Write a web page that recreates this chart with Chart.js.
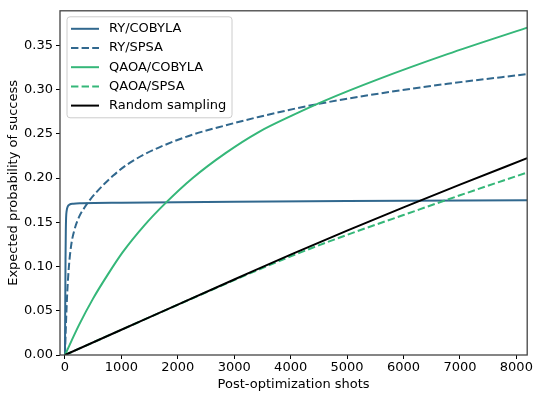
<!DOCTYPE html>
<html lang="en">
<head>
  <meta charset="UTF-8">
  <title>Expected probability of success</title>
  <script src="https://cdn.jsdelivr.net/npm/chart.js"></script>
  <style>
    html, body {
      margin: 0;
      padding: 0;
      background: #fff;
    }
    #wrap {
      width: 534px;
      height: 396px;
    }
  </style>
</head>
<body>
  <div id="wrap">
    <canvas id="chart" width="534" height="396"></canvas>
  </div>

  <script>
    // values
    const xTicks = [0, 1000, 2000, 3000, 4000, 5000, 6000, 7000, 8000];
    const yTicks = [0, 0.05, 0.10, 0.15, 0.20, 0.25, 0.30, 0.35];

    const shotsRyCobyla = [0, 5, 10, 15, 20, 30, 50, 80, 150, 300, 1000, 3000, 5000, 8192];
    const probRyCobyla = [0, 0.06, 0.11, 0.14, 0.155, 0.163, 0.168, 0.170, 0.171, 0.1715, 0.1722, 0.1732, 0.1740, 0.1748];

    const shotsRySpsa = [0, 15, 40, 70, 110, 170, 250, 350, 450, 550, 700, 850, 1085, 1400, 1700, 2260, 2846, 3430, 4310, 5370, 6780, 8192];
    const probRySpsa = [0, 0.03, 0.07, 0.10, 0.124, 0.142, 0.156, 0.167, 0.176, 0.1835, 0.1935, 0.2025, 0.2145, 0.2265, 0.2355, 0.2490, 0.2595, 0.2690, 0.2815, 0.2935, 0.3065, 0.3174];

    const shotsQaoaCobyla = [0, 250, 500, 750, 1027, 1400, 1790, 2259, 2846, 3433, 4019, 4607, 5546, 6778, 8192];
    const probQaoaCobyla = [0, 0.034, 0.064, 0.090, 0.1165, 0.1460, 0.1722, 0.1998, 0.2282, 0.2520, 0.2705, 0.2875, 0.3115, 0.3400, 0.3700];

    const shotsQaoaSpsa = [0, 1000, 2000, 3000, 4000, 5000, 6000, 7000, 8192];
    const probQaoaSpsa = [0, 0.0285, 0.0568, 0.0846, 0.1115, 0.1358, 0.1582, 0.1805, 0.2063];

    const shotsRandom = [0, 1000, 2000, 3000, 4000, 5000, 6000, 7000, 8192];
    const probRandom = [0, 0.0285, 0.0570, 0.0853, 0.1135, 0.1405, 0.1668, 0.1925, 0.2225];

    const blue = '#31688e';
    const green = '#35b779';
    const font = 'DejaVu Sans';

    function pts(xs, ys) {
      return xs.map((x, i) => ({ x: x, y: ys[i] }));
    }

    function series(label, xs, ys, color, dashed, order) {
      return {
        label: label,
        data: pts(xs, ys),
        borderColor: color,
        backgroundColor: color,
        borderWidth: 2,
        borderDash: dashed ? [7.4, 3.2] : [],
        pointRadius: 0,
        fill: false,
        cubicInterpolationMode: 'monotone',
        order: order
      };
    }

    // legend inside the axes, top-left, like matplotlib
    const boxLegend = {
      id: 'boxLegend',
      afterDraw(chart) {
        const ctx = chart.ctx;
        const area = chart.chartArea;
        const x0 = area.left + 7, y0 = area.top + 6;
        const w = 165, h = 101;
        ctx.save();
        ctx.beginPath();
        ctx.roundRect(x0, y0, w, h, 3);
        ctx.fillStyle = 'rgba(255,255,255,0.8)';
        ctx.fill();
        ctx.strokeStyle = '#cccccc';
        ctx.lineWidth = 1;
        ctx.stroke();
        ctx.font = '13px ' + font;
        ctx.textBaseline = 'middle';
        chart.data.datasets.forEach((ds, i) => {
          const yy = y0 + 12 + i * 19.2;
          ctx.beginPath();
          ctx.setLineDash(ds.borderDash);
          ctx.strokeStyle = ds.borderColor;
          ctx.lineWidth = 2;
          ctx.moveTo(x0 + 4, yy);
          ctx.lineTo(x0 + 32, yy);
          ctx.stroke();
          ctx.setLineDash([]);
          ctx.fillStyle = '#000';
          ctx.fillText(ds.label, x0 + 42, yy);
        });
        ctx.restore();
      }
    };

    const frame = {
      id: 'frame',
      afterDatasetsDraw(chart) {
        const ctx = chart.ctx;
        const a = chart.chartArea;
        ctx.save();
        ctx.strokeStyle = '#444';
        ctx.lineWidth = 1.3;
        ctx.strokeRect(a.left, a.top, a.right - a.left, a.bottom - a.top);
        ctx.restore();
      }
    };

    new Chart(document.getElementById('chart'), {
      type: 'line',
      data: {
        datasets: [
          series('RY/COBYLA', shotsRyCobyla, probRyCobyla, blue, false, 5),
          series('RY/SPSA', shotsRySpsa, probRySpsa, blue, true, 4),
          series('QAOA/COBYLA', shotsQaoaCobyla, probQaoaCobyla, green, false, 3),
          series('QAOA/SPSA', shotsQaoaSpsa, probQaoaSpsa, green, true, 2),
          series('Random sampling', shotsRandom, probRandom, '#000000', false, 1)
        ]
      },
      options: {
        responsive: false,
        animation: false,
        layout: { padding: { left: 0, right: 4, top: 5, bottom: 0 } },
        plugins: {
          legend: { display: false },
          tooltip: { enabled: false }
        },
        scales: {
          x: {
            type: 'linear',
            min: -88,
            max: 8192,
            afterBuildTicks: s => { s.ticks = xTicks.map(v => ({ value: v })); },
            afterFit: s => { s.height = 41; },
            grid: { display: true, drawOnChartArea: false, tickLength: 4, tickColor: '#000', tickWidth: 1 },
            border: { display: false },
            ticks: { color: '#000', font: { family: font, size: 13 }, padding: 1, maxRotation: 0, callback: v => String(v) },
            title: { display: true, text: 'Post-optimization shots', color: '#000', font: { family: font, size: 13 }, padding: { top: 0, bottom: 4 } }
          },
          y: {
            type: 'linear',
            min: 0,
            max: 0.389,
            afterBuildTicks: s => { s.ticks = yTicks.map(v => ({ value: v })); },
            afterFit: s => { s.width = 60; },
            grid: { display: true, drawOnChartArea: false, tickLength: 4, tickColor: '#000', tickWidth: 1 },
            border: { display: false },
            ticks: { color: '#000', font: { family: font, size: 13 }, padding: 3, callback: v => v.toFixed(2) },
            title: { display: true, text: 'Expected probability of success', color: '#000', font: { family: font, size: 13 }, padding: { top: 6, bottom: 0 } }
          }
        }
      },
      plugins: [frame, boxLegend]
    });
  </script>
</body>
</html>
